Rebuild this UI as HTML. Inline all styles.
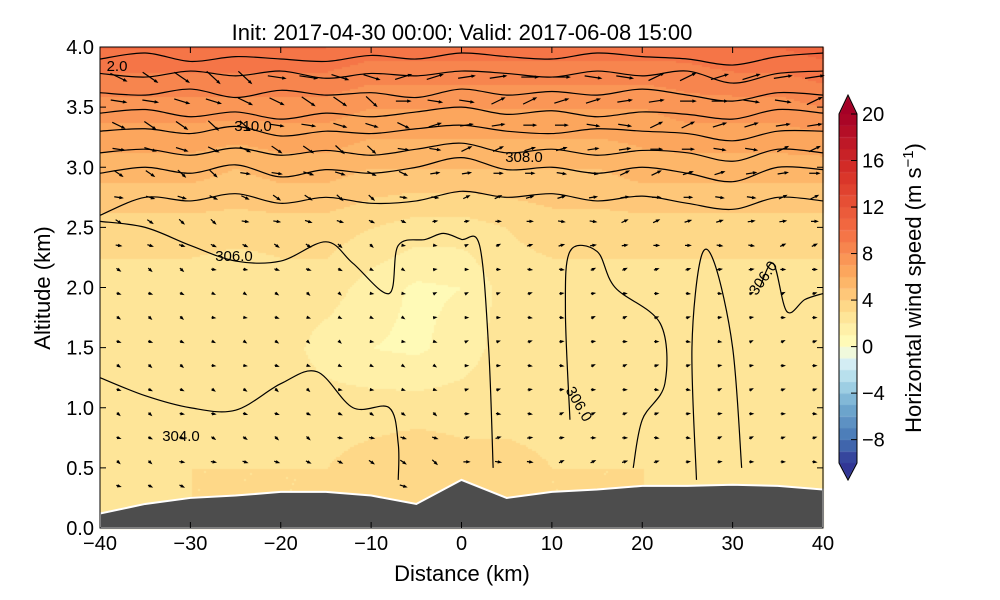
<!DOCTYPE html>
<html><head><meta charset="utf-8"><style>
body{margin:0;background:#fff;font-family:"Liberation Sans",sans-serif}
#wrap{position:relative;width:1000px;height:600px}
canvas,svg{position:absolute;left:0;top:0}
</style></head><body>
<div id="wrap">
<canvas id="cv" width="1000" height="600"></canvas>
<svg id="sv" width="1000" height="600"></svg>
</div>
<script>
// distance columns (km) and altitude rows (km)
const xs=[-40,-35,-30,-25,-20,-15,-10,-5,0,5,10,15,20,25,30,35,40];
const zs=[4.0,3.5,3.0,2.5,2.0,1.5,1.0,0.5,0.0];
const speed=[
[10,10,10,10,10,10,9.5,9.5,9.5,9.5,9.5,9.5,9.5,9.5,10,10,10.5],
[7.5,7.5,7.5,7.5,7.5,7.5,7,7,7,7,7,7,7,7.5,7.5,7.5,8],
[5.5,5.5,5.5,5,5.5,5.5,5,5,5,5,5,5,5.5,5.5,5.5,5.5,5.5],
[3.5,3.5,3.5,3.5,3.5,3.5,3,2.5,2.5,3,3.5,3.5,3.5,3.5,3.5,3.5,3.5],
[2.5,2.5,2.5,2,2.5,2.5,1.5,0.8,1,2.5,2.5,2.5,2.5,2.5,2.5,2.5,2.5],
[2.5,2.5,2.5,2,2.5,1.5,1,0.8,1.5,2.5,2.5,2.5,2.5,2.5,2,2.5,2.5],
[2.5,2.5,2.5,2.5,2.5,2.5,2.5,2.5,2.5,2.5,2.5,2.5,2.5,2.5,2.5,2.5,2.5],
[2.5,2.5,3,3,3,3,3.5,4,3.5,3.5,3,3,3,2.5,2.5,2.5,2.5],
[3,3,3,3,3,3,3.5,4,3.5,3.5,3,3,3,3,3,3,3]];
const terrain=[0.12,0.2,0.25,0.27,0.3,0.3,0.27,0.2,0.4,0.25,0.3,0.32,0.35,0.35,0.36,0.35,0.32];
const thetaLines=[
[3.9,3.95,3.88,3.92,3.9,3.88,3.93,3.9,3.95,3.92,3.9,3.95,3.92,3.9,3.85,3.92,3.95],
[3.78,3.75,3.8,3.76,3.8,3.74,3.78,3.76,3.8,3.78,3.75,3.8,3.76,3.8,3.7,3.78,3.8],
[3.62,3.6,3.65,3.58,3.64,3.6,3.62,3.58,3.65,3.6,3.63,3.6,3.65,3.6,3.55,3.62,3.6],
[3.45,3.48,3.42,3.46,3.4,3.45,3.42,3.46,3.5,3.44,3.47,3.42,3.46,3.44,3.4,3.48,3.45],
[3.3,3.32,3.28,3.34,3.26,3.3,3.28,3.32,3.35,3.3,3.28,3.32,3.3,3.28,3.22,3.3,3.3],
[3.12,3.15,3.1,3.16,3.1,3.14,3.1,3.15,3.2,3.12,3.15,3.1,3.14,3.12,3.05,3.15,3.12],
[2.95,3.0,2.95,3.02,2.92,2.98,2.95,3.0,3.08,2.98,3.0,2.95,3.0,2.95,2.88,3.0,2.98],
[2.6,2.75,2.72,2.78,2.7,2.75,2.7,2.72,2.8,2.75,2.78,2.72,2.76,2.7,2.65,2.75,2.72]];
const theta306=[[-40,2.55],[-35,2.5],[-30,2.35],[-25,2.22],[-20,2.22],[-15,2.38],[-12,2.2],[-8,1.95],[-7,2.35],[-4,2.4],[-2,2.45],[0,2.4],[2,2.35],[3,1.5],[3.5,0.5]];
const theta304=[[-40,1.25],[-35,1.1],[-30,1.0],[-25,0.98],[-20,1.2],[-16,1.3],[-12,1.0],[-8,1.0],[-7,0.7],[-7,0.4]];
const speedTicks=[20,16,12,8,4,0,-4,-8];
const xTicks=[-40,-30,-20,-10,0,10,20,30,40];
const yTicks=[0.0,0.5,1.0,1.5,2.0,2.5,3.0,3.5,4.0];

const L=100,R=823,T=47,B=528;
const X=d=>L+(d+40)/80*(R-L);
const Y=z=>B-z/4*(B-T);
const stops=[[-10,[49,54,149]],[-8,[69,117,180]],[-5,[116,173,209]],[-3,[171,217,233]],[-1,[224,243,248]],[0,[255,255,191]],[3,[254,224,144]],[6,[253,174,97]],[10,[244,109,67]],[15,[215,48,39]],[20,[165,0,38]]];
function col(v){v=Math.max(-10,Math.min(20,v));for(let i=1;i<stops.length;i++){if(v<=stops[i][0]){const a=stops[i-1],b=stops[i],t=(v-a[0])/(b[0]-a[0]);return a[1].map((c,k)=>Math.round(c+(b[1][k]-c)*t));}}return stops[stops.length-1][1];}
function field(d,z){let fi=(d+40)/5,fj=(4-z)/0.5;fi=Math.max(0,Math.min(16,fi));fj=Math.max(0,Math.min(8,fj));const i=Math.min(15,Math.floor(fi)),j=Math.min(7,Math.floor(fj)),a=fi-i,b=fj-j;return speed[j][i]*(1-a)*(1-b)+speed[j][i+1]*a*(1-b)+speed[j+1][i]*(1-a)*b+speed[j+1][i+1]*a*b;}
const ctx=document.getElementById('cv').getContext('2d');
for(let px=L;px<R;px+=2)for(let py=T;py<B;py+=2){const d=(px-L)/(R-L)*80-40,z=(B-py)/(B-T)*4;const v=Math.floor(field(d,z))+0.5;const c=col(v);ctx.fillStyle=`rgb(${c})`;ctx.fillRect(px,py,2,2);}
// colorbar
for(let v=-10;v<20;v++){const c=col(v+0.5);ctx.fillStyle=`rgb(${c})`;const y1=114+(20-(v+1))*11.63;ctx.fillRect(839,y1,18,11.9);}
ctx.fillStyle=`rgb(${col(20)})`;ctx.beginPath();ctx.moveTo(839,114);ctx.lineTo(848,95);ctx.lineTo(857,114);ctx.fill();
ctx.fillStyle=`rgb(${col(-10)})`;ctx.beginPath();ctx.moveTo(839,463);ctx.lineTo(848,480);ctx.lineTo(857,463);ctx.fill();

const svg=document.getElementById('sv');const NS='http://www.w3.org/2000/svg';
function mk(t,a,p){const e=document.createElementNS(NS,t);for(const k in a)e.setAttribute(k,a[k]);(p||svg).appendChild(e);return e;}
function smooth(pts){let s='M'+pts[0][0]+','+pts[0][1];for(let i=0;i<pts.length-1;i++){const p0=pts[Math.max(0,i-1)],p1=pts[i],p2=pts[i+1],p3=pts[Math.min(pts.length-1,i+2)];s+=` C${p1[0]+(p2[0]-p0[0])/6},${p1[1]+(p2[1]-p0[1])/6} ${p2[0]-(p3[0]-p1[0])/6},${p2[1]-(p3[1]-p1[1])/6} ${p2[0]},${p2[1]}`;}return s;}
// arrows
const ag=mk('g',{});
for(let d=-38;d<=39;d+=3.5)for(let z=0.35;z<=3.95;z+=0.2){
  let ti=0;for(let i=0;i<16;i++)if(d>=xs[i])ti=i;const hz=terrain[ti]+(terrain[ti+1]-terrain[ti])*((d-xs[ti])/5);if(z<hz+0.1)continue;
  const v=field(d,z);const len=Math.max(2.5,(v-1)*2.2);const ang=(Math.round(d*7+z*13)%5)*0.15-0.15;
  const x0=X(d),y0=Y(z),c=Math.cos(ang),s=Math.sin(ang);
  const xa=x0-len*c/2,ya=y0+len*s/2,hx=x0+len*c/2,hy=y0-len*s/2;
  const a=mk('line',{x1:xa,y1:ya,x2:hx,y2:hy,stroke:'#000','stroke-width':1.2},ag);
  
  mk('polygon',{points:`${hx+2*c},${hy-2*s} ${hx-3*Math.cos(ang-0.6)},${hy+3*Math.sin(ang-0.6)} ${hx-3*Math.cos(ang+0.6)},${hy+3*Math.sin(ang+0.6)}`,fill:'#000'},ag);
}
// theta contours
thetaLines.forEach(row=>{const p=mk('path',{d:smooth(row.map((z,i)=>[X(xs[i]),Y(z)])),fill:'none',stroke:'#000','stroke-width':1.2});});
[theta306,theta304].forEach(l=>{const p=mk('path',{d:smooth(l.map(q=>[X(q[0]),Y(q[1])])),fill:'none',stroke:'#000','stroke-width':1.2});});
[[[12,0.9],[11.5,1.8],[12,2.3],[15,2.3],[17,2.0],[22,1.7],[22.5,1.2],[20,0.9],[19,0.5]],[[26,0.4],[25.5,1.5],[26.5,2.25],[28,2.2],[30,1.5],[31,0.5]],[[33,2.0],[34.5,2.2],[36,1.8],[38,1.9],[40,1.95]]].forEach(l=>{const p=mk('path',{d:smooth(l.map(q=>[X(q[0]),Y(q[1])])),fill:'none',stroke:'#000','stroke-width':1.2});});
const lbls=[['2.0',117,71,0],['310.0',253,131,0],['308.0',524,162,0],['306.0',234,261,0],['304.0',181,441,0],['306.0',579,409,60],['306.0',763,283,-55]];
lbls.forEach(l=>{const t=mk('text',{x:l[1],y:l[2],'font-size':15,'text-anchor':'middle',transform:`rotate(${l[3]} ${l[1]} ${l[2]-5})`});t.textContent=l[0];});
// terrain
let tp=`M${L},${B}`;xs.forEach((d,i)=>tp+=` L${X(d)},${Y(terrain[i])}`);tp+=` L${R},${B} Z`;
const tr=mk('path',{d:tp,fill:'#4d4d4d',stroke:'#fff','stroke-width':2});
const fr=mk('rect',{x:L,y:T,width:R-L,height:B-T,fill:'none',stroke:'#000','stroke-width':1});
xTicks.forEach(v=>{mk('line',{x1:X(v),x2:X(v),y1:B,y2:B-6,stroke:'#000'});mk('line',{x1:X(v),x2:X(v),y1:T,y2:T+6,stroke:'#000'});const t=mk('text',{x:X(v),y:B+22,'font-size':20,'text-anchor':'middle'});t.textContent=(v<0?'\u2212'+(-v):v);});
yTicks.forEach(v=>{mk('line',{x1:L,x2:L+6,y1:Y(v),y2:Y(v),stroke:'#000'});mk('line',{x1:R,x2:R-6,y1:Y(v),y2:Y(v),stroke:'#000'});const t=mk('text',{x:L-6,y:Y(v)+7,'font-size':20,'text-anchor':'end'});t.textContent=v.toFixed(1);});
const cb=mk('path',{d:'M839,114 L848,95 L857,114 L857,463 L848,480 L839,463 Z',fill:'none',stroke:'#000'});
speedTicks.forEach(v=>{const y=114+(20-v)*11.63;mk('line',{x1:851,x2:857,y1:y,y2:y,stroke:'#000'});const t=mk('text',{x:862,y:y+7,'font-size':20});t.textContent=v<0?'\u2212'+(-v):v;});
let t=mk('text',{x:462,y:40,'font-size':22,'text-anchor':'middle'});t.textContent='Init: 2017-04-30 00:00; Valid: 2017-06-08 15:00';
t=mk('text',{x:462,y:581,'font-size':22,'text-anchor':'middle'});t.textContent='Distance (km)';
t=mk('text',{x:50,y:288,'font-size':22,'text-anchor':'middle',transform:'rotate(-90 50 288)'});t.textContent='Altitude (km)';
t=mk('text',{x:921,y:288,'font-size':22,'text-anchor':'middle',transform:'rotate(-90 921 288)'});t.innerHTML='Horizontal wind speed (m s<tspan dy="-8" font-size="15">\u22121</tspan><tspan dy="8">)</tspan>';
</script>
</body></html>
